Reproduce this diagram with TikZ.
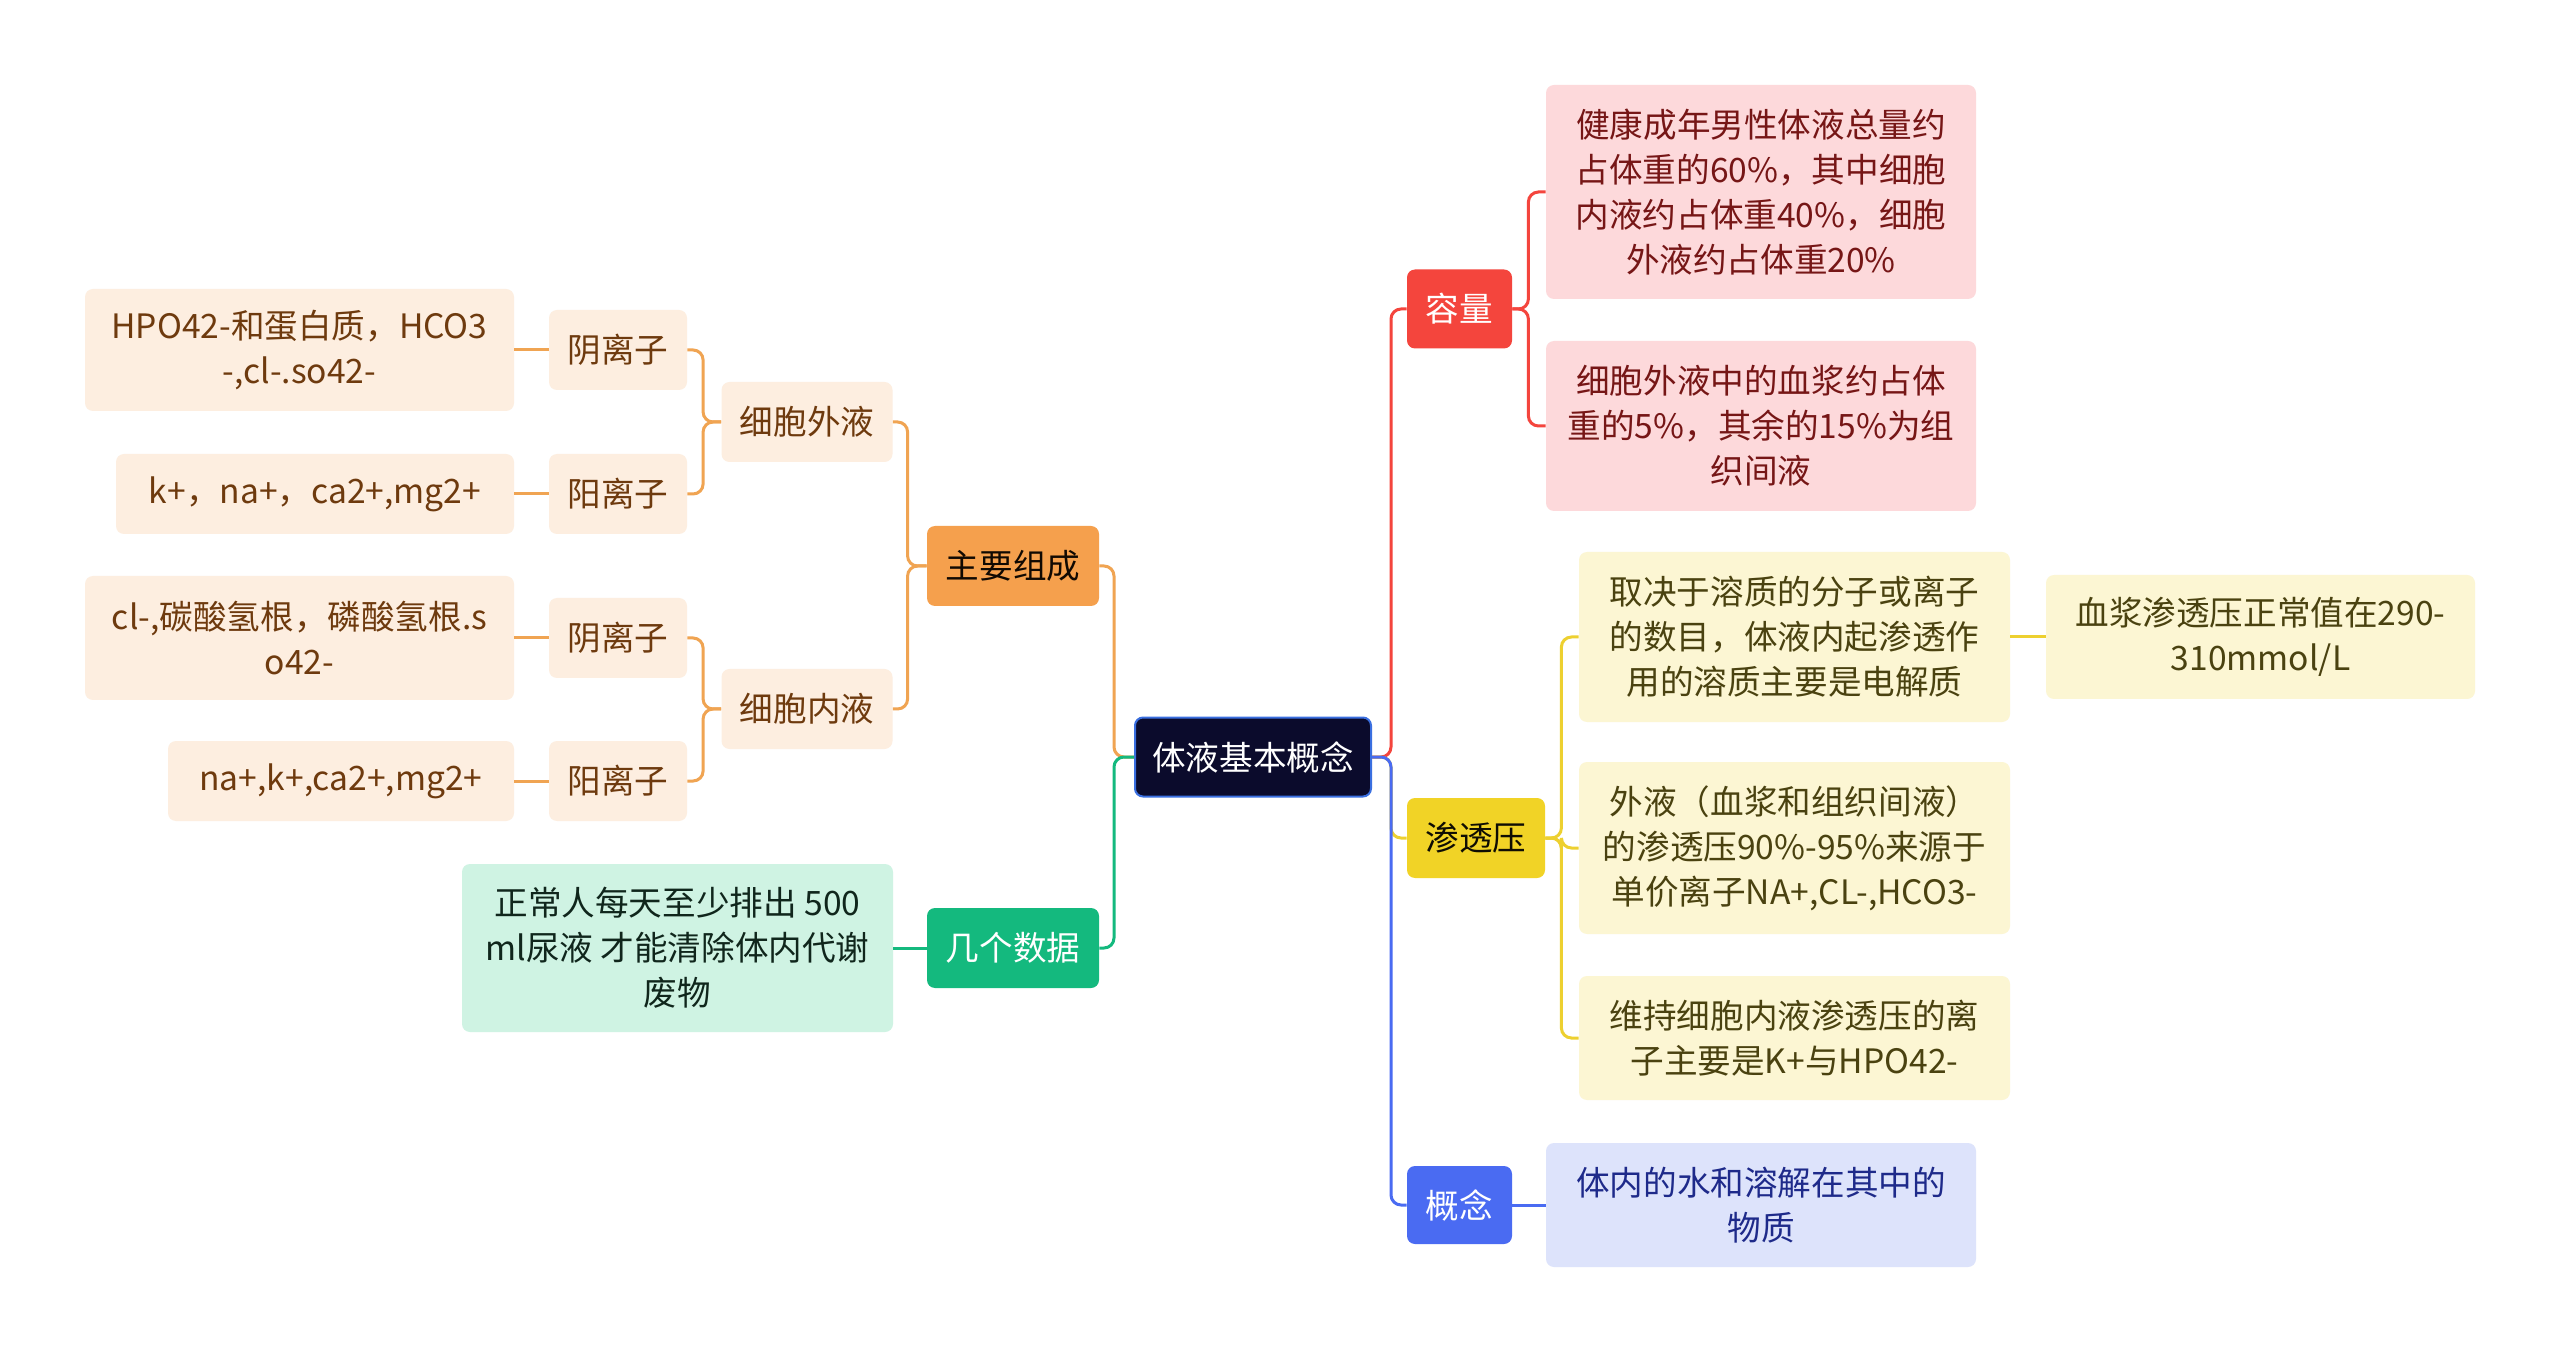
\documentclass[tikz,border=0pt]{standalone}
\usepackage{fontspec}
\setmainfont{Noto Sans CJK SC}
\definecolor{rootfill}{HTML}{0B0B2C}
\definecolor{rootborder}{HTML}{3A6FE0}
\definecolor{orM}{HTML}{F5A04D}
\definecolor{orL}{HTML}{FDEEE0}
\definecolor{orT}{HTML}{6E3A0E}
\definecolor{orLine}{HTML}{F0A452}
\definecolor{grM}{HTML}{14B97E}
\definecolor{grL}{HTML}{CFF3E3}
\definecolor{grT}{HTML}{10261C}
\definecolor{reM}{HTML}{F4453D}
\definecolor{reL}{HTML}{FDD9DB}
\definecolor{reT}{HTML}{761616}
\definecolor{yeM}{HTML}{F1D326}
\definecolor{yeL}{HTML}{FCF6D3}
\definecolor{yeT}{HTML}{4A4210}
\definecolor{yeLine}{HTML}{EDD030}
\definecolor{blM}{HTML}{4A6BF2}
\definecolor{blL}{HTML}{DDE3FB}
\definecolor{blT}{HTML}{1E2A8A}
\tikzset{
  box/.style={rounded corners=4pt, inner sep=0pt, align=center,
    font=\fontsize{16.8pt}{22.5pt}\selectfont},
  conn/.style={line width=1.5pt, rounded corners=5pt},
}
\begin{document}
\begin{tikzpicture}[x=0.5pt,y=-0.5pt]
\useasboundingbox[fill=white] (0,0) rectangle (2560,1352);

% root
\node[box, fill=rootfill, draw=rootborder, line width=1pt, text=white, minimum width=118pt, minimum height=39.5pt] (root) at (1253,757) {体液基本概念};

% left main
\node[box, fill=orM, text=black!85!orT, minimum width=86pt, minimum height=40pt] (zhu) at (1013,566) {主要组成};
\node[box, fill=grM, text=white, minimum width=86pt, minimum height=40pt] (ji) at (1013,948) {几个数据};

\node[box, fill=orL, text=orT, minimum width=85.5pt, minimum height=40pt] (wai) at (807,422) {细胞外液};
\node[box, fill=orL, text=orT, minimum width=85.5pt, minimum height=40pt] (nei) at (807,709) {细胞内液};

\node[box, fill=orL, text=orT, minimum width=69pt, minimum height=40pt] (yin1) at (618,350) {阴离子};
\node[box, fill=orL, text=orT, minimum width=69pt, minimum height=40pt] (yang1) at (618,494) {阳离子};
\node[box, fill=orL, text=orT, minimum width=69pt, minimum height=40pt] (yin2) at (618,638) {阴离子};
\node[box, fill=orL, text=orT, minimum width=69pt, minimum height=40pt] (yang2) at (618,781) {阳离子};

\node[box, fill=orL, text=orT, minimum width=214.5pt, minimum height=61pt] (l1) at (299.5,350) {HPO42-和蛋白质，HCO3\\-,cl-.so42-};
\node[box, fill=orL, text=orT, minimum width=199pt, minimum height=40pt] (l2) at (315,494) {k+，na+，ca2+,mg2+};
\node[box, fill=orL, text=orT, minimum width=214.5pt, minimum height=62pt] (l3) at (299.5,638) {cl-,碳酸氢根，磷酸氢根.s\\o42-};
\node[box, fill=orL, text=orT, minimum width=173pt, minimum height=40pt] (l4) at (341,781) {na+,k+,ca2+,mg2+};

\node[box, fill=grL, text=grT, minimum width=215.5pt, minimum height=84pt] (g1) at (677.5,948) {正常人每天至少排出 500\\ml尿液 才能清除体内代谢\\废物};

% right main
\node[box, fill=reM, text=white, minimum width=52.5pt, minimum height=39.5pt] (rong) at (1459.5,309) {容量};
\node[box, fill=yeM, text=black!80!yeT, minimum width=69pt, minimum height=40pt] (shen) at (1476,838) {渗透压};
\node[box, fill=blM, text=white, minimum width=52.5pt, minimum height=39pt] (gai) at (1459.5,1205) {概念};

\node[box, fill=reL, text=reT, minimum width=215pt, minimum height=107pt] (r1) at (1761,192) {健康成年男性体液总量约\\占体重的60\%，其中细胞\\内液约占体重40\%，细胞\\外液约占体重20\%};
\node[box, fill=reL, text=reT, minimum width=215pt, minimum height=85pt] (r2) at (1761,426) {细胞外液中的血浆约占体\\重的5\%，其余的15\%为组\\织间液};

\node[box, fill=yeL, text=yeT, minimum width=215.5pt, minimum height=85pt] (y1) at (1794.5,637) {取决于溶质的分子或离子\\的数目，体液内起渗透作\\用的溶质主要是电解质};
\node[box, fill=yeL, text=yeT, minimum width=214.5pt, minimum height=62pt] (y2) at (2260.5,637) {血浆渗透压正常值在290-\\310mmol/L};
\node[box, fill=yeL, text=yeT, minimum width=215.5pt, minimum height=86pt] (y3) at (1794.5,848) {外液（血浆和组织间液）\\的渗透压90\%-95\%来源于\\单价离子NA+,CL-,HCO3-};
\node[box, fill=yeL, text=yeT, minimum width=215.5pt, minimum height=62pt] (y4) at (1794.5,1038) {维持细胞内液渗透压的离\\子主要是K+与HPO42-};

\node[box, fill=blL, text=blT, minimum width=215pt, minimum height=62pt] (b1) at (1761,1205) {体内的水和溶解在其中的\\物质};

% connectors left
\draw[conn, orLine] (root.west) -- ++(-20,0) |- (zhu.east);
\draw[conn, grM] (root.west) -- ++(-20,0) |- (ji.east);
\draw[conn, orLine] (zhu.west) -- ++(-19,0) |- (wai.east);
\draw[conn, orLine] (zhu.west) -- ++(-19,0) |- (nei.east);
\draw[conn, orLine] (wai.west) -- ++(-18,0) |- (yin1.east);
\draw[conn, orLine] (wai.west) -- ++(-18,0) |- (yang1.east);
\draw[conn, orLine] (nei.west) -- ++(-18,0) |- (yin2.east);
\draw[conn, orLine] (nei.west) -- ++(-18,0) |- (yang2.east);
\draw[conn, orLine] (yin1.west) -- (l1.east);
\draw[conn, orLine] (yang1.west) -- (l2.east);
\draw[conn, orLine] (yin2.west) -- (l3.east);
\draw[conn, orLine] (yang2.west) -- (l4.east);
\draw[conn, grM] (ji.west) -- (g1.east);

% connectors right
\draw[conn, reM] (root.east) -- ++(19,0) |- (rong.west);
\draw[conn, yeLine] (root.east) -- ++(19,0) |- (shen.west);
\draw[conn, blM] (root.east) -- ++(19,0) |- (gai.west);
\draw[conn, reM] (rong.east) -- ++(16,0) |- (r1.west);
\draw[conn, reM] (rong.east) -- ++(16,0) |- (r2.west);
\draw[conn, yeLine] (shen.east) -- ++(16,0) |- (y1.west);
\draw[conn, yeLine] (shen.east) -- ++(16,0) |- (y3.west);
\draw[conn, yeLine] (shen.east) -- ++(16,0) |- (y4.west);
\draw[conn, yeLine] (y1.east) -- (y2.west);
\draw[conn, blM] (gai.east) -- (b1.west);
\end{tikzpicture}
\end{document}
